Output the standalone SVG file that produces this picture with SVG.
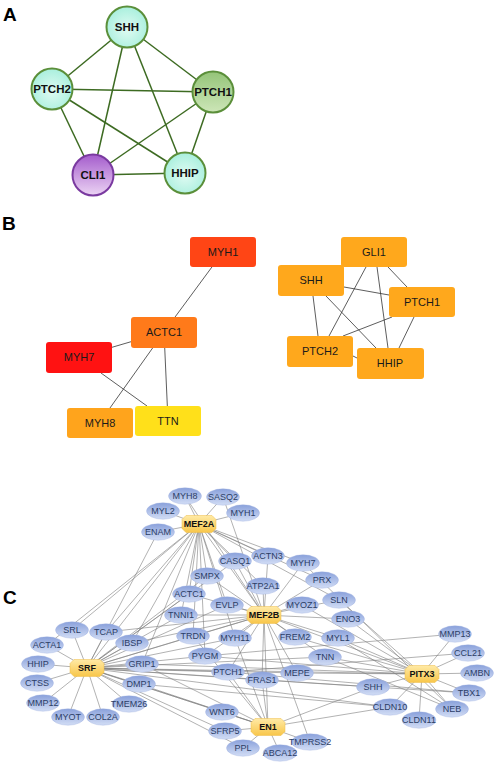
<svg xmlns="http://www.w3.org/2000/svg" xmlns:xlink="http://www.w3.org/1999/xlink" width="498" height="766" viewBox="0 0 498 766">
<defs>
<radialGradient id="gMint" cx="0.5" cy="0.55" r="0.6"><stop offset="0" stop-color="#e0fbf3"/><stop offset="1" stop-color="#a4eedb"/></radialGradient>
<linearGradient id="gGreen" x1="0" y1="0" x2="0" y2="1"><stop offset="0" stop-color="#94c478"/><stop offset="1" stop-color="#cde6b8"/></linearGradient>
<linearGradient id="gPurple" x1="0" y1="0" x2="0" y2="1"><stop offset="0" stop-color="#a45ccc"/><stop offset="1" stop-color="#ecd4f4"/></linearGradient>
<linearGradient id="gBlue" x1="0" y1="0" x2="0" y2="1"><stop offset="0" stop-color="#8aa1db"/><stop offset="1" stop-color="#d2ddf5"/></linearGradient>
<linearGradient id="gHub" x1="0" y1="0" x2="0" y2="1"><stop offset="0" stop-color="#ffeaa6"/><stop offset="1" stop-color="#f8c64a"/></linearGradient>
<path id="hub" d="M-13,-8.5 H13 L17,-4.5 V4.5 L13,8.5 H-13 L-17,4.5 V-4.5 Z"/>
</defs>
<style>
.lbl{font-family:"Liberation Sans",Arial,sans-serif;font-weight:bold;font-size:19px;fill:#000}
.ea{stroke:#3d6b22;stroke-width:1.5;fill:none}
.ca{stroke:#5b8f3a;stroke-width:2}
.ta{font-family:"Liberation Sans",Arial,sans-serif;font-weight:bold;font-size:11.5px;fill:#111;text-anchor:middle}
.eb{stroke:#333;stroke-width:0.8;fill:none}
.tb{font-family:"Liberation Sans",Arial,sans-serif;font-size:11px;fill:#1a1a1a;text-anchor:middle}
.ec{stroke:#7e7e7e;stroke-width:0.6;fill:none}
.n{fill:url(#gBlue);stroke:#9fb1e0;stroke-width:0.4}
.tc{font-family:"Liberation Sans",Arial,sans-serif;font-size:9px;fill:#2c3e66;text-anchor:middle}
.h{fill:url(#gHub);stroke:#efbd48;stroke-width:0.5}
.th{font-family:"Liberation Sans",Arial,sans-serif;font-weight:bold;font-size:9px;fill:#111;text-anchor:middle}
</style>
<rect width="498" height="766" fill="#fff"/>

<!-- Panel A -->
<text class="lbl" x="3" y="21">A</text>
<g id="edgesA">
<line class="ea" x1="127" y1="27" x2="52" y2="89"/>
<line class="ea" x1="127" y1="27" x2="213" y2="92"/>
<line class="ea" x1="127" y1="27" x2="93" y2="175"/>
<line class="ea" x1="127" y1="27" x2="185" y2="173"/>
<line class="ea" x1="52" y1="89" x2="213" y2="92"/>
<line class="ea" x1="52" y1="89" x2="93" y2="175"/>
<line class="ea" x1="52" y1="89" x2="185" y2="173"/>
<line class="ea" x1="213" y1="92" x2="93" y2="175"/>
<line class="ea" x1="213" y1="92" x2="185" y2="173"/>
<line class="ea" x1="93" y1="175" x2="185" y2="173"/>
</g>
<g id="A-SHH"><circle class="ca" cx="127" cy="27" r="20.5" fill="url(#gMint)"/><text class="ta" x="127" y="31">SHH</text></g>
<g id="A-PTCH2"><circle class="ca" cx="52" cy="89" r="20.5" fill="url(#gMint)"/><text class="ta" x="52" y="93">PTCH2</text></g>
<g id="A-PTCH1"><circle class="ca" cx="213" cy="92" r="20.5" fill="url(#gGreen)"/><text class="ta" x="213" y="96">PTCH1</text></g>
<g id="A-CLI1"><circle cx="93" cy="175" r="20.5" fill="url(#gPurple)" stroke="#7a3aa0" stroke-width="2"/><text class="ta" x="93" y="179">CLI1</text></g>
<g id="A-HHIP"><circle class="ca" cx="185" cy="173" r="20.5" fill="url(#gMint)"/><text class="ta" x="185" y="177">HHIP</text></g>

<!-- Panel B -->
<text class="lbl" x="2" y="230">B</text>
<g id="edgesB">
<line class="eb" x1="223" y1="252" x2="164" y2="332"/>
<line class="eb" x1="164" y1="332" x2="79" y2="357"/>
<line class="eb" x1="164" y1="332" x2="100" y2="422"/>
<line class="eb" x1="164" y1="332" x2="168" y2="421"/>
<line class="eb" x1="101" y1="373" x2="147" y2="406"/>
<line class="eb" x1="388" y1="267" x2="407" y2="287"/>
<line class="eb" x1="366" y1="267" x2="329" y2="336"/>
<line class="eb" x1="377" y1="267" x2="388" y2="348"/>
<line class="eb" x1="344" y1="287" x2="389" y2="295"/>
<line class="eb" x1="313" y1="296" x2="318" y2="336"/>
<line class="eb" x1="326" y1="296" x2="376" y2="348"/>
<line class="eb" x1="392" y1="317" x2="343" y2="336"/>
<line class="eb" x1="414" y1="317" x2="399" y2="348"/>
<line class="eb" x1="353" y1="356" x2="357" y2="358"/>
</g>
<g id="B-MYH1"><rect x="190" y="237" width="66" height="30" rx="3" fill="#ff4515"/><text class="tb" x="223" y="256">MYH1</text></g>
<g id="B-ACTC1"><rect x="131" y="317" width="66" height="31" rx="3" fill="#ff7a1a"/><text class="tb" x="164" y="336">ACTC1</text></g>
<g id="B-MYH7"><rect x="46" y="342" width="66" height="31" rx="3" fill="#ff1212"/><text class="tb" x="79" y="361">MYH7</text></g>
<g id="B-MYH8"><rect x="67" y="408" width="66" height="30" rx="3" fill="#ffa41c"/><text class="tb" x="100" y="427">MYH8</text></g>
<g id="B-TTN"><rect x="135" y="406" width="66" height="30" rx="3" fill="#ffe01a"/><text class="tb" x="168" y="425">TTN</text></g>
<g id="B-GLI1"><rect x="341" y="237" width="66" height="30" rx="3" fill="#ffa81c"/><text class="tb" x="374" y="256">GLI1</text></g>
<g id="B-SHH"><rect x="278" y="265" width="66" height="31" rx="3" fill="#ffa81c"/><text class="tb" x="311" y="284">SHH</text></g>
<g id="B-PTCH1"><rect x="389" y="287" width="66" height="30" rx="3" fill="#ffa81c"/><text class="tb" x="422" y="306">PTCH1</text></g>
<g id="B-PTCH2"><rect x="287" y="336" width="66" height="31" rx="3" fill="#ffa81c"/><text class="tb" x="320" y="355">PTCH2</text></g>
<g id="B-HHIP"><rect x="357" y="348" width="67" height="31" rx="3" fill="#ffa81c"/><text class="tb" x="390" y="367">HHIP</text></g>

<!-- Panel C -->
<text class="lbl" x="3" y="604">C</text>
<g id="edgesC">
<path class="ec" d="M199,524L185,496M199,524L223,497M199,524L163,511M199,524L243,513M199,524L158,532M199,524L235,561M199,524L268,556M199,524L303,563M199,524L322,580M199,524L207,576M199,524L263,586M199,524L189,594M199,524L227,605M199,524L181,615M199,524L193,636M199,524L235,638M199,524L264,615M199,524L72,630M199,524L106,632M199,524L132,643M199,524L87,668M199,524L47,645M199,524L339,600M199,524L205,656M199,524L142,664"/>
<path class="ec" d="M264,615L235,561M264,615L268,556M264,615L303,563M264,615L322,580M264,615L339,600M264,615L302,605M264,615L263,586M264,615L348,619M264,615L227,605M264,615L207,576M264,615L295,637M264,615L338,638M264,615L325,657M264,615L297,673M264,615L235,638M264,615L262,680M264,615L228,672M264,615L268,727M264,615L310,742M264,615L87,668M264,615L193,636M264,615L181,615M264,615L189,594M264,615L205,656M264,615L185,496M264,615L223,497M264,615L422,674M264,615L132,643M264,615L106,632"/>
<path class="ec" d="M87,668L72,630M87,668L106,632M87,668L47,645M87,668L38,664M87,668L37,683M87,668L43,703M87,668L68,717M87,668L103,717M87,668L129,704M87,668L139,684M87,668L142,664M87,668L132,643M87,668L193,636M87,668L181,615M87,668L205,656M87,668L189,594M87,668L207,576M87,668L228,672M87,668L262,680M87,668L222,712M87,668L225,731M87,668L243,748M87,668L268,727M87,668L235,638M87,668L297,673M87,668L373,687M87,668L390,707M87,668L422,674M87,668L325,657M87,668L227,605M87,668L235,561M87,668L158,532"/>
<path class="ec" d="M422,674L455,634M422,674L468,653M422,674L477,673M422,674L469,693M422,674L452,709M422,674L419,720M422,674L390,707M422,674L373,687M422,674L297,673M422,674L325,657M422,674L338,638M422,674L348,619M422,674L339,600M422,674L302,605M422,674L295,637M422,674L142,664M422,674L205,656"/>
<path class="ec" d="M268,727L222,712M268,727L225,731M268,727L243,748M268,727L280,753M268,727L310,742M268,727L262,680M268,727L228,672M268,727L373,687M268,727L390,707M268,727L235,638M268,727L139,684M268,727L142,664M268,727L193,636"/>
<path class="ec" d="M455,634L205,656M468,653L228,672M469,693L262,680M452,709L338,638M452,709L325,657M390,707L139,684M469,693L228,672M303,563L452,709"/>
</g>

<g id="C-nodes">
<g id="n-MYH8"><ellipse class="n" cx="185" cy="496" rx="16.5" ry="8.2"/><text class="tc" x="185" y="499">MYH8</text></g>
<g id="n-SASQ2"><ellipse class="n" cx="223" cy="497" rx="16.5" ry="8.2"/><text class="tc" x="223" y="500">SASQ2</text></g>
<g id="n-MYL2"><ellipse class="n" cx="163" cy="511" rx="16.5" ry="8.2"/><text class="tc" x="163" y="514">MYL2</text></g>
<g id="n-MYH1"><ellipse class="n" cx="243" cy="513" rx="16.5" ry="8.2"/><text class="tc" x="243" y="516">MYH1</text></g>
<g id="n-ENAM"><ellipse class="n" cx="158" cy="532" rx="16.5" ry="8.2"/><text class="tc" x="158" y="535">ENAM</text></g>
<g id="n-CASQ1"><ellipse class="n" cx="235" cy="561" rx="16.5" ry="8.2"/><text class="tc" x="235" y="564">CASQ1</text></g>
<g id="n-ACTN3"><ellipse class="n" cx="268" cy="556" rx="16.5" ry="8.2"/><text class="tc" x="268" y="559">ACTN3</text></g>
<g id="n-MYH7"><ellipse class="n" cx="303" cy="563" rx="16.5" ry="8.2"/><text class="tc" x="303" y="566">MYH7</text></g>
<g id="n-SMPX"><ellipse class="n" cx="207" cy="576" rx="16.5" ry="8.2"/><text class="tc" x="207" y="579">SMPX</text></g>
<g id="n-ATP2A1"><ellipse class="n" cx="263" cy="586" rx="16.5" ry="8.2"/><text class="tc" x="263" y="589">ATP2A1</text></g>
<g id="n-PRX"><ellipse class="n" cx="322" cy="580" rx="16.5" ry="8.2"/><text class="tc" x="322" y="583">PRX</text></g>
<g id="n-SLN"><ellipse class="n" cx="339" cy="600" rx="16.5" ry="8.2"/><text class="tc" x="339" y="603">SLN</text></g>
<g id="n-MYOZ1"><ellipse class="n" cx="302" cy="605" rx="16.5" ry="8.2"/><text class="tc" x="302" y="608">MYOZ1</text></g>
<g id="n-EVLP"><ellipse class="n" cx="227" cy="605" rx="16.5" ry="8.2"/><text class="tc" x="227" y="608">EVLP</text></g>
<g id="n-ENO3"><ellipse class="n" cx="348" cy="619" rx="16.5" ry="8.2"/><text class="tc" x="348" y="622">ENO3</text></g>
<g id="n-ACTC1"><ellipse class="n" cx="189" cy="594" rx="16.5" ry="8.2"/><text class="tc" x="189" y="597">ACTC1</text></g>
<g id="n-TNNI1"><ellipse class="n" cx="181" cy="615" rx="16.5" ry="8.2"/><text class="tc" x="181" y="618">TNNI1</text></g>
<g id="n-SRL"><ellipse class="n" cx="72" cy="630" rx="16.5" ry="8.2"/><text class="tc" x="72" y="633">SRL</text></g>
<g id="n-TCAP"><ellipse class="n" cx="106" cy="632" rx="16.5" ry="8.2"/><text class="tc" x="106" y="635">TCAP</text></g>
<g id="n-TRDN"><ellipse class="n" cx="193" cy="636" rx="16.5" ry="8.2"/><text class="tc" x="193" y="639">TRDN</text></g>
<g id="n-MYH11"><ellipse class="n" cx="235" cy="638" rx="16.5" ry="8.2"/><text class="tc" x="235" y="641">MYH11</text></g>
<g id="n-FREM2"><ellipse class="n" cx="295" cy="637" rx="16.5" ry="8.2"/><text class="tc" x="295" y="640">FREM2</text></g>
<g id="n-MYL1"><ellipse class="n" cx="338" cy="638" rx="16.5" ry="8.2"/><text class="tc" x="338" y="641">MYL1</text></g>
<g id="n-ACTA1"><ellipse class="n" cx="47" cy="645" rx="16.5" ry="8.2"/><text class="tc" x="47" y="648">ACTA1</text></g>
<g id="n-IBSP"><ellipse class="n" cx="132" cy="643" rx="16.5" ry="8.2"/><text class="tc" x="132" y="646">IBSP</text></g>
<g id="n-PYGM"><ellipse class="n" cx="205" cy="656" rx="16.5" ry="8.2"/><text class="tc" x="205" y="659">PYGM</text></g>
<g id="n-TNN"><ellipse class="n" cx="325" cy="657" rx="16.5" ry="8.2"/><text class="tc" x="325" y="660">TNN</text></g>
<g id="n-MMP13"><ellipse class="n" cx="455" cy="634" rx="16.5" ry="8.2"/><text class="tc" x="455" y="637">MMP13</text></g>
<g id="n-CCL21"><ellipse class="n" cx="468" cy="653" rx="16.5" ry="8.2"/><text class="tc" x="468" y="656">CCL21</text></g>
<g id="n-HHIP"><ellipse class="n" cx="38" cy="664" rx="16.5" ry="8.2"/><text class="tc" x="38" y="667">HHIP</text></g>
<g id="n-GRIP1"><ellipse class="n" cx="142" cy="664" rx="16.5" ry="8.2"/><text class="tc" x="142" y="667">GRIP1</text></g>
<g id="n-PTCH1"><ellipse class="n" cx="228" cy="672" rx="16.5" ry="8.2"/><text class="tc" x="228" y="675">PTCH1</text></g>
<g id="n-MEPE"><ellipse class="n" cx="297" cy="673" rx="16.5" ry="8.2"/><text class="tc" x="297" y="676">MEPE</text></g>
<g id="n-FRAS1"><ellipse class="n" cx="262" cy="680" rx="16.5" ry="8.2"/><text class="tc" x="262" y="683">FRAS1</text></g>
<g id="n-AMBN"><ellipse class="n" cx="477" cy="673" rx="16.5" ry="8.2"/><text class="tc" x="477" y="676">AMBN</text></g>
<g id="n-CTSS"><ellipse class="n" cx="37" cy="683" rx="16.5" ry="8.2"/><text class="tc" x="37" y="686">CTSS</text></g>
<g id="n-DMP1"><ellipse class="n" cx="139" cy="684" rx="16.5" ry="8.2"/><text class="tc" x="139" y="687">DMP1</text></g>
<g id="n-SHH"><ellipse class="n" cx="373" cy="687" rx="16.5" ry="8.2"/><text class="tc" x="373" y="690">SHH</text></g>
<g id="n-TBX1"><ellipse class="n" cx="469" cy="693" rx="16.5" ry="8.2"/><text class="tc" x="469" y="696">TBX1</text></g>
<g id="n-MMP12"><ellipse class="n" cx="43" cy="703" rx="16.5" ry="8.2"/><text class="tc" x="43" y="706">MMP12</text></g>
<g id="n-TMEM26"><ellipse class="n" cx="129" cy="704" rx="17" ry="8.2"/><text class="tc" x="129" y="707">TMEM26</text></g>
<g id="n-CLDN10"><ellipse class="n" cx="390" cy="707" rx="17" ry="8.2"/><text class="tc" x="390" y="710">CLDN10</text></g>
<g id="n-NEB"><ellipse class="n" cx="452" cy="709" rx="16.5" ry="8.2"/><text class="tc" x="452" y="712">NEB</text></g>
<g id="n-MYOT"><ellipse class="n" cx="68" cy="717" rx="16.5" ry="8.2"/><text class="tc" x="68" y="720">MYOT</text></g>
<g id="n-COL2A"><ellipse class="n" cx="103" cy="717" rx="16.5" ry="8.2"/><text class="tc" x="103" y="720">COL2A</text></g>
<g id="n-WNT6"><ellipse class="n" cx="222" cy="712" rx="16.5" ry="8.2"/><text class="tc" x="222" y="715">WNT6</text></g>
<g id="n-CLDN11"><ellipse class="n" cx="419" cy="720" rx="17" ry="8.2"/><text class="tc" x="419" y="723">CLDN11</text></g>
<g id="n-SFRP5"><ellipse class="n" cx="225" cy="731" rx="16.5" ry="8.2"/><text class="tc" x="225" y="734">SFRP5</text></g>
<g id="n-TMPRSS2"><ellipse class="n" cx="310" cy="742" rx="18.5" ry="8.2"/><text class="tc" x="310" y="745">TMPRSS2</text></g>
<g id="n-PPL"><ellipse class="n" cx="243" cy="748" rx="16.5" ry="8.2"/><text class="tc" x="243" y="751">PPL</text></g>
<g id="n-ABCA12"><ellipse class="n" cx="280" cy="753" rx="17" ry="8.2"/><text class="tc" x="280" y="756">ABCA12</text></g>
</g>
<g id="C-hubs">
<g id="h-MEF2A"><use xlink:href="#hub" href="#hub" x="199" y="524" class="h"/><text class="th" x="199" y="527">MEF2A</text></g>
<g id="h-MEF2B"><use xlink:href="#hub" href="#hub" x="264" y="615" class="h"/><text class="th" x="264" y="618">MEF2B</text></g>
<g id="h-SRF"><use xlink:href="#hub" href="#hub" x="87" y="668" class="h"/><text class="th" x="87" y="671">SRF</text></g>
<g id="h-PITX3"><use xlink:href="#hub" href="#hub" x="422" y="674" class="h"/><text class="th" x="422" y="677">PITX3</text></g>
<g id="h-EN1"><use xlink:href="#hub" href="#hub" x="268" y="727" class="h"/><text class="th" x="268" y="730">EN1</text></g>
</g>
</svg>
